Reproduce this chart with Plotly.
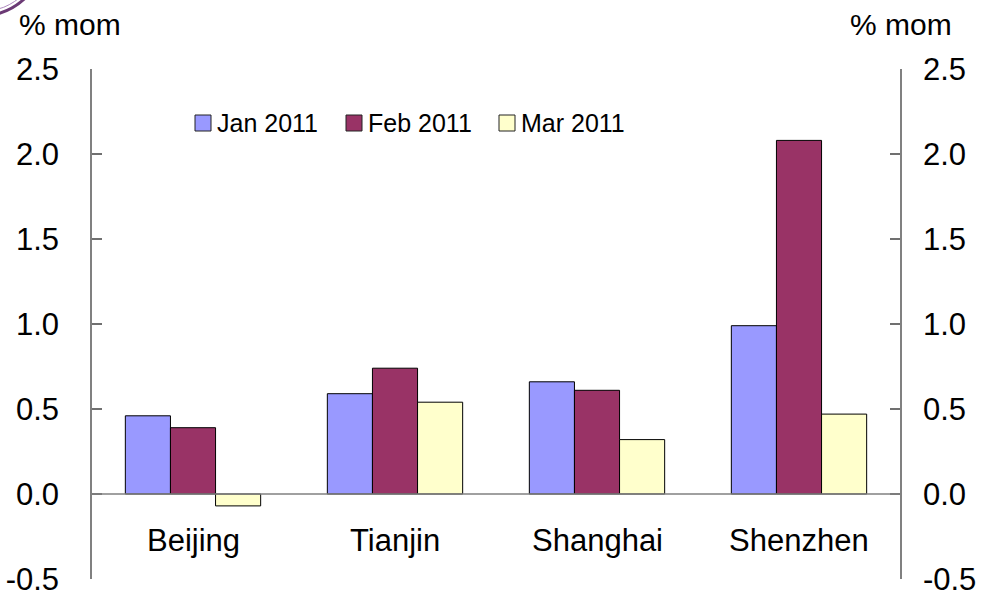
import plotly.graph_objects as go

categories = ["Beijing", "Tianjin", "Shanghai", "Shenzhen"]
series_names = ["Jan 2011", "Feb 2011", "Mar 2011"]
jan = [0.46, 0.59, 0.66, 0.99]
feb = [0.39, 0.74, 0.61, 2.08]
mar = [-0.07, 0.54, 0.32, 0.47]
colors = ["#9999FF", "#993366", "#FFFFCC"]
y_ticks = [-0.5, 0.0, 0.5, 1.0, 1.5, 2.0, 2.5]

FONT = "Liberation Sans, Arial, sans-serif"

# plot area in pixels
L, R, T, B = 92, 900, 69, 579
W, H = 981, 601


def px(x):
    return (x - L) / (R - L)


def py(y):
    return (B - y) / (B - T)


fig = go.Figure()
for name, vals, col in zip(series_names, [jan, feb, mar], colors):
    fig.add_trace(go.Bar(x=categories, y=vals, name=name, showlegend=False,
                         marker=dict(color=col, line=dict(color="black", width=1))))

# dummy trace for right axis
fig.add_trace(go.Scatter(x=categories, y=[None] * len(categories), yaxis="y2",
                         showlegend=False, hoverinfo="skip"))

axis_common = dict(range=[-0.5, 2.5], tickvals=y_ticks,
                   ticktext=[f"{v:.1f}" for v in y_ticks],
                   ticks="inside", ticklen=10, tickcolor="#707070", tickwidth=2,
                   showline=True, linecolor="#808080", linewidth=1.5,
                   showgrid=False, zeroline=False, automargin=False,
                   tickfont=dict(family=FONT, size=31, color="black"))

fig.update_layout(
    width=W, height=H,
    margin=dict(l=L, r=W - R, t=T, b=H - B),
    paper_bgcolor="white", plot_bgcolor="white",
    barmode="group", bargap=0.33, bargroupgap=0,
    font=dict(family=FONT, color="black"),
    xaxis=dict(showticklabels=False, showline=False, showgrid=False, ticks="",
               zeroline=False, automargin=False),
    yaxis=dict(**axis_common, ticklabelstandoff=25),
    yaxis2=dict(**axis_common, overlaying="y", side="right", ticklabelstandoff=15),
    showlegend=False,
)

# zero line
fig.add_shape(type="line", xref="paper", yref="y", x0=0, x1=1, y0=0, y1=0,
              line=dict(color="#808080", width=1.5))

# category labels
for c in categories:
    fig.add_annotation(x=c, y=-0.276, xref="x", yref="y", text=c, showarrow=False,
                       font=dict(family=FONT, size=31, color="black"))

# manual legend
legend_sq_x = [195, 346, 499]
for name, col, sx in zip(series_names, colors, legend_sq_x):
    fig.add_shape(type="rect", xref="paper", yref="paper",
                  x0=px(sx), x1=px(sx + 16), y0=py(131), y1=py(115),
                  fillcolor=col, line=dict(color="#222222", width=1))
    fig.add_annotation(x=px(sx + 20), y=py(123), xref="paper", yref="paper",
                       text=name, showarrow=False, xanchor="left", yanchor="middle",
                       font=dict(family=FONT, size=25, color="black"))

# axis titles
fig.add_annotation(x=px(17), y=py(24), xref="paper", yref="paper", text="% mom",
                   showarrow=False, xanchor="left", yanchor="middle",
                   font=dict(family=FONT, size=30, color="black"))
fig.add_annotation(x=px(954), y=py(24), xref="paper", yref="paper", text="% mom",
                   showarrow=False, xanchor="right", yanchor="middle",
                   font=dict(family=FONT, size=30, color="black"))

# decorative logo arc (clipped at page corner)
fig.add_shape(type="circle", xref="paper", yref="paper",
              x0=px(-86), x1=px(46), y0=py(16), y1=py(-116),
              line=dict(color="#6B3A75", width=3))
fig.add_shape(type="circle", xref="paper", yref="paper",
              x0=px(-82), x1=px(42), y0=py(12), y1=py(-112),
              line=dict(color="#B08CC0", width=1))

fig.write_html("out.html",
               config={"displayModeBar": False},
               post_script="document.body.style.margin='0';"
                           "document.body.style.overflow='hidden';")
